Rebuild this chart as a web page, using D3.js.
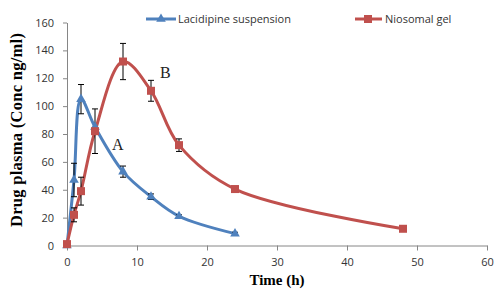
<!DOCTYPE html>
<html>
<head>
<meta charset="utf-8">
<script src="https://cdn.jsdelivr.net/npm/d3@7"></script>
<style>
  body { margin: 0; background: #fff; }
  svg { display: block; }
</style>
</head>
<body>
<div id="chart"></div>
<script>
// data
var suspTime = [0, 1, 2, 4, 8, 12, 16, 24];
var suspConc = [0, 47, 105, 85, 53, 35, 21, 8.5];
var suspErr  = [0, 12, 10.5, 0, 4, 2, 1, 1];

var gelTime = [0, 1, 2, 4, 8, 12, 16, 24, 48];
var gelConc = [1, 22, 39, 82, 132, 111, 72, 40.5, 12];
var gelErr  = [0, 5, 10, 16, 13, 7.5, 4.5, 2, 0];

var xTicks = [0, 10, 20, 30, 40, 50, 60];
var yTicks = [0, 20, 40, 60, 80, 100, 120, 140, 160];

var width = 500, height = 290;
var blue = '#4F81BD', red = '#C0504D';

var svg = d3.select('#chart').append('svg')
  .attr('width', width)
  .attr('height', height)

var x = d3.scaleLinear().domain([0, 60]).range([67, 487])
var y = d3.scaleLinear().domain([0, 160]).range([245.5, 22.5])

// axes
var xAxis = svg.append('g')
  .attr('transform', 'translate(0,' + y(0) + ')')
  .call(d3.axisBottom(x).tickValues(xTicks).tickSize(5).tickPadding(8).tickSizeOuter(0))
var yAxis = svg.append('g')
  .attr('transform', 'translate(' + x(0) + ',0)')
  .call(d3.axisLeft(y).tickValues(yTicks).tickSize(4).tickPadding(9).tickSizeOuter(0))

;[xAxis, yAxis].forEach(function(g) {
  g.selectAll('path, line').attr('stroke', '#868686')
  g.selectAll('text')
    .attr('fill', '#333')
    .style('font-family', 'Open Sans, DejaVu Sans, sans-serif')
    .style('font-size', '11px')
})

function series(t, c, e) {
  return t.map(function(d, i) { return { t: d, c: c[i], e: e[i] } })
}
var susp = series(suspTime, suspConc, suspErr)
var gel = series(gelTime, gelConc, gelErr)

var line = d3.line()
  .x(function(d) { return x(d.t) })
  .y(function(d) { return y(d.c) })
  .curve(d3.curveCatmullRom.alpha(0.5))

function drawErr(data) {
  var g = svg.append('g').attr('stroke', '#000').attr('stroke-width', 1)
  data.filter(function(d) { return d.e > 0 }).forEach(function(d) {
    var cx = x(d.t)
    g.append('line').attr('x1', cx).attr('x2', cx).attr('y1', y(d.c - d.e)).attr('y2', y(d.c + d.e))
    g.append('line').attr('x1', cx - 3).attr('x2', cx + 3).attr('y1', y(d.c + d.e)).attr('y2', y(d.c + d.e))
    g.append('line').attr('x1', cx - 3).attr('x2', cx + 3).attr('y1', y(d.c - d.e)).attr('y2', y(d.c - d.e))
  })
}

// lines
svg.append('path').datum(susp)
  .attr('d', line).attr('fill', 'none').attr('stroke', blue).attr('stroke-width', 3)
svg.append('path').datum(gel)
  .attr('d', line).attr('fill', 'none').attr('stroke', red).attr('stroke-width', 3)

drawErr(susp)
drawErr(gel)

var tri = d3.symbol().type(d3.symbolTriangle).size(40)
svg.append('g').selectAll('path').data(susp).join('path')
  .attr('d', tri)
  .attr('transform', function(d) { return 'translate(' + x(d.t) + ',' + y(d.c) + ')' })
  .attr('fill', blue)

svg.append('g').selectAll('rect').data(gel).join('rect')
  .attr('x', function(d) { return x(d.t) - 4 })
  .attr('y', function(d) { return y(d.c) - 4 })
  .attr('width', 8).attr('height', 8)
  .attr('fill', red)

// A / B labels
var serif = 'Liberation Serif, Times New Roman, serif'
svg.append('text').attr('x', 112).attr('y', 150).text('A')
  .style('font-family', serif).style('font-size', '16px').attr('fill', '#222')
svg.append('text').attr('x', 160).attr('y', 78).text('B')
  .style('font-family', serif).style('font-size', '16px').attr('fill', '#222')

// axis titles
svg.append('text')
  .attr('transform', 'translate(22,130) rotate(-90)')
  .attr('text-anchor', 'middle')
  .attr('textLength', 194).attr('lengthAdjust', 'spacing')
  .style('font-family', serif).style('font-weight', 'bold').style('font-size', '16.5px')
  .text('Drug plasma (Conc ng/ml)')
svg.append('text')
  .attr('x', 277).attr('y', 285)
  .attr('text-anchor', 'middle')
  .style('font-family', serif).style('font-weight', 'bold').style('font-size', '15px')
  .text('Time (h)')

// legend
var leg = svg.append('g').style('font-family', 'Open Sans, DejaVu Sans, sans-serif').style('font-size', '11px')
leg.append('line').attr('x1', 146).attr('x2', 176).attr('y1', 19).attr('y2', 19).attr('stroke', blue).attr('stroke-width', 3)
leg.append('path').attr('d', tri).attr('transform', 'translate(161,19)').attr('fill', blue)
leg.append('text').attr('x', 178).attr('y', 23).attr('fill', '#333').text('Lacidipine suspension')
leg.append('line').attr('x1', 355).attr('x2', 382).attr('y1', 19).attr('y2', 19).attr('stroke', red).attr('stroke-width', 3)
leg.append('rect').attr('x', 364).attr('y', 15).attr('width', 8).attr('height', 8).attr('fill', red)
leg.append('text').attr('x', 385).attr('y', 23).attr('fill', '#333').text('Niosomal gel')
</script>
</body>
</html>
